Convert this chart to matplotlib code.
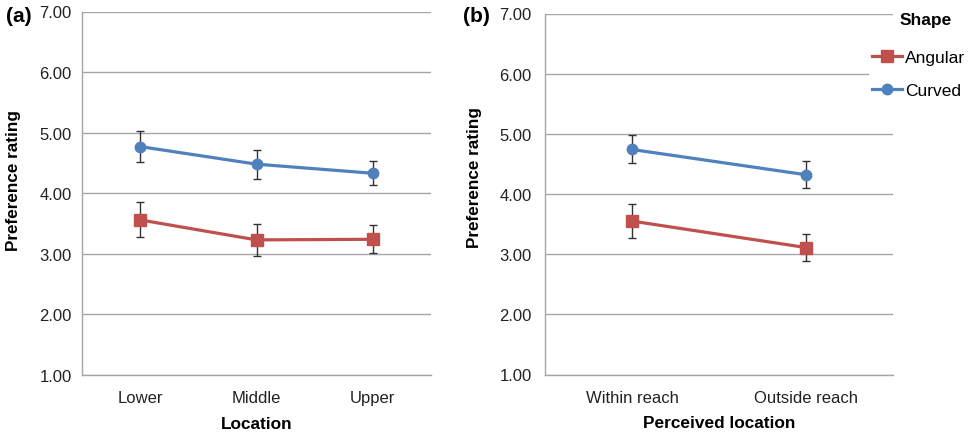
import matplotlib.pyplot as plt
import numpy as np

plt.rcParams['font.family'] = ['Liberation Sans', 'DejaVu Sans']

# panel (a)
loc_a = ["Lower", "Middle", "Upper"]
angular_a = [3.56, 3.23, 3.24]
angular_a_lo = [3.28, 2.97, 3.01]
angular_a_hi = [3.86, 3.49, 3.48]
curved_a = [4.77, 4.48, 4.33]
curved_a_lo = [4.51, 4.24, 4.13]
curved_a_hi = [5.03, 4.71, 4.54]

# panel (b)
loc_b = ["Within reach", "Outside reach"]
angular_b = [3.55, 3.11]
angular_b_lo = [3.27, 2.88]
angular_b_hi = [3.84, 3.34]
curved_b = [4.74, 4.32]
curved_b_lo = [4.52, 4.10]
curved_b_hi = [4.98, 4.55]

red = "#C0504D"
blue = "#4F81BD"
grid_col = "#a6a6a6"
W, H = 968, 435


def px_axes(fig, x0, y0, x1, y1):
    return fig.add_axes([x0 / W, 1 - y1 / H, (x1 - x0) / W, (y1 - y0) / H])


def draw_series(ax, vals, lo, hi, color, marker, ms, label):
    x = np.arange(len(vals))
    vals = np.array(vals)
    yerr = [vals - np.array(lo), np.array(hi) - vals]
    ax.errorbar(x, vals, yerr=yerr, fmt='none', ecolor="#333333", elinewidth=1.0,
                capsize=3, capthick=1.0, zorder=3)
    ax.plot(x, vals, color=color, lw=2.3, marker=marker, ms=ms, mec=color,
            mfc=color, label=label, zorder=4)


def style_axes(ax, cats, xlabel, ypad):
    ax.set_xlim(-0.5, len(cats) - 0.5)
    ax.set_ylim(1, 7)
    ax.set_yticks(np.arange(1, 8))
    ax.set_yticklabels(["%.2f" % v for v in np.arange(1, 8)])
    ax.set_xticks(np.arange(len(cats)))
    ax.set_xticklabels(cats)
    ax.yaxis.grid(True, color=grid_col, lw=1.0)
    ax.set_axisbelow(True)
    for s in ["top", "right"]:
        ax.spines[s].set_visible(False)
    for s in ["left", "bottom"]:
        ax.spines[s].set_color(grid_col)
        ax.spines[s].set_linewidth(1.0)
    ax.tick_params(axis='y', length=0, pad=ypad, labelsize=12, labelcolor="#222222")
    ax.tick_params(axis='x', length=0, pad=11, labelsize=12, labelcolor="#222222")
    ax.set_xlabel(xlabel, fontsize=12.4, fontweight='bold')
    ax.xaxis.set_label_coords(0.5, -0.113)


fig = plt.figure(figsize=(W / 100, H / 100), dpi=100)

ax1 = px_axes(fig, 82, 12.5, 431, 376)
draw_series(ax1, angular_a, angular_a_lo, angular_a_hi, red, 's', 8, "Angular")
draw_series(ax1, curved_a, curved_a_lo, curved_a_hi, blue, 'o', 7.5, "Curved")
style_axes(ax1, loc_a, "Location", 7.5)

ax2 = px_axes(fig, 545, 14.5, 893, 375.5)
draw_series(ax2, angular_b, angular_b_lo, angular_b_hi, red, 's', 8, "Angular")
draw_series(ax2, curved_b, curved_b_lo, curved_b_hi, blue, 'o', 7.5, "Curved")
style_axes(ax2, loc_b, "Perceived location", 9.5)

fig.text(13.5 / W, 1 - 181 / H, "Preference rating", rotation=90, ha='center',
         va='center', fontsize=12.3, fontweight='bold')
fig.text(475 / W, 1 - 178 / H, "Preference rating", rotation=90, ha='center',
         va='center', fontsize=12.3, fontweight='bold')
fig.text(6 / W, 1 - 17 / H, "(a)", ha='left', va='center', fontsize=15, fontweight='bold')
fig.text(463 / W, 1 - 17 / H, "(b)", ha='left', va='center', fontsize=15, fontweight='bold')

fig.text(900 / W, 1 - 21 / H, "Shape", ha='left', va='center', fontsize=12.5,
         fontweight='bold')
leg = ax2.legend(loc='center left', bbox_to_anchor=(869 / W, 1 - 75 / H),
                 bbox_transform=fig.transFigure, frameon=True, facecolor='white',
                 edgecolor='none', fancybox=False, framealpha=1, fontsize=12.5,
                 handlelength=1.75, handletextpad=0.17, labelspacing=1.0,
                 borderpad=0.15, borderaxespad=0)
leg.set_zorder(10)

fig.savefig("out.png", dpi=100)
